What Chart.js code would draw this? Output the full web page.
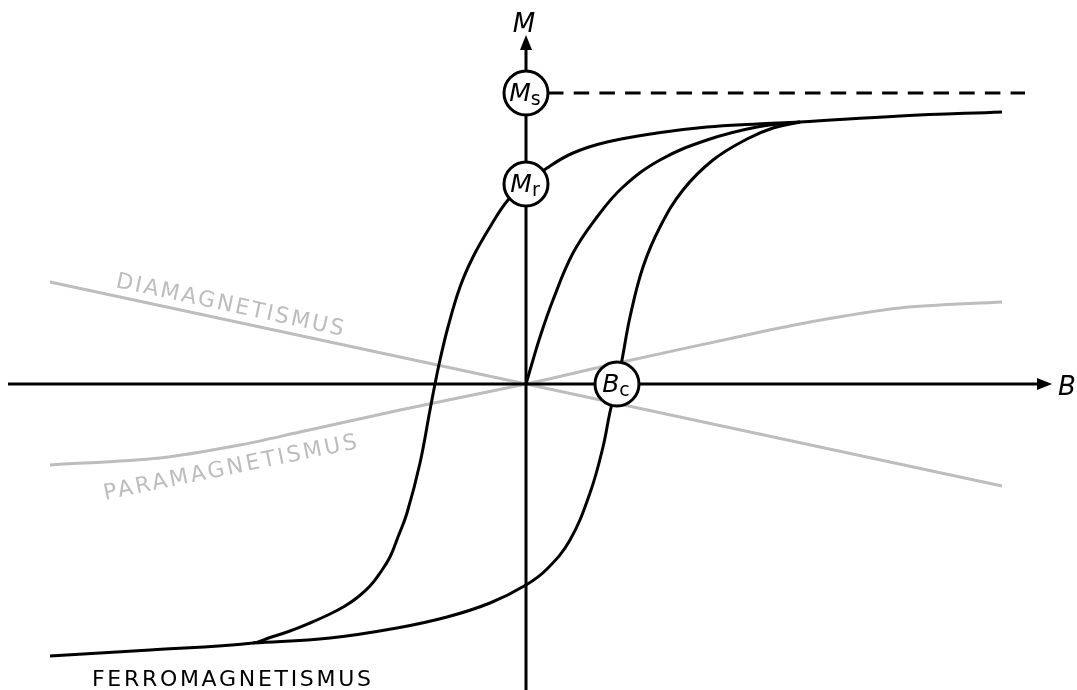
<!DOCTYPE html>
<html>
<head>
<meta charset="utf-8">
<title>Magnetisierungskurven</title>
<script src="https://cdn.jsdelivr.net/npm/chart.js@4.4.1/dist/chart.umd.min.js"></script>
<style>
  html, body { margin: 0; padding: 0; background: #fff; }
  #wrap { width: 1077px; height: 690px; position: relative; }
</style>
</head>
<body>
<div id="wrap"><canvas id="hyst"></canvas></div>
<script>
// field B and magnetisation M in arbitrary units
const B_RANGE = [-5.26, 5.51];
const M_RANGE = [-3.06, 3.84];
const B_AXIS = [-5.18, 5.14, 5.26];   // start, end of line, arrow tip
const M_AXIS = [-3.06, 3.36, 3.49];

// descending branch of the hysteresis loop
const downB = [4.76, 3.74, 2.74, 2.31, 1.81, 1.31, 0.81, 0.47, 0.21, 0, -0.18, -0.36, -0.53, -0.66, -0.78, -0.86, -0.91, -0.96, -1.06, -1.19, -1.28, -1.36, -1.46, -1.56, -1.68, -1.81, -1.96, -2.16, -2.36, -2.56, -2.73, -3.76, -4.76];
const downM = [2.72, 2.68, 2.62, 2.60, 2.57, 2.51, 2.42, 2.31, 2.16, 2.00, 1.84, 1.57, 1.27, 0.97, 0.57, 0.24, 0, -0.26, -0.79, -1.29, -1.53, -1.73, -1.89, -2.02, -2.13, -2.22, -2.30, -2.39, -2.47, -2.535, -2.59, -2.66, -2.72];

// ascending branch
const upB = [-2.73, -1.96, -1.29, -0.79, -0.36, 0, 0.21, 0.44, 0.64, 0.77, 0.84, 0.91, 0.96, 1.04, 1.17, 1.34, 1.57, 1.87, 2.21, 2.47, 2.74];
const upM = [-2.59, -2.54, -2.44, -2.33, -2.19, -2.01, -1.85, -1.56, -1.09, -0.63, -0.28, 0, 0.24, 0.67, 1.17, 1.57, 1.94, 2.24, 2.45, 2.56, 2.62];

// initial magnetisation (virgin curve)
const virginB = [0, 0.07, 0.14, 0.27, 0.47, 0.71, 0.97, 1.34, 1.81, 2.31, 2.74];
const virginM = [0, 0.24, 0.47, 0.84, 1.31, 1.67, 1.97, 2.24, 2.44, 2.57, 2.62];

// paramagnet and diamagnet
const paraB = [-4.76, -3.66, -2.86, -2.26, -1.26, 0, 1.01, 2.07, 2.84, 3.74, 4.76];
const paraM = [-0.81, -0.74, -0.61, -0.48, -0.26, 0, 0.23, 0.46, 0.62, 0.76, 0.82];
const diaB = [-4.76, 0, 4.76];
const diaM = [1.02, 0, -1.02];

// saturation, remanence, coercive field
const M_SAT = 2.91;
const M_REM = 2.00;
const B_COERC = 0.91;
const satLineB = [0.22, 4.99];

const marks = [
  { x: 0, y: M_SAT, main: "M", sub: "s" },
  { x: 0, y: M_REM, main: "M", sub: "r" },
  { x: B_COERC, y: 0, main: "B", sub: "c" }
];

const zip = (xs, ys) => xs.map((x, i) => ({ x: x, y: ys[i] }));

const FONT = '"DejaVu Sans", "Noto Sans", sans-serif';
const GREY = "#bdbdbd";
const INK = "#000";

function curve(data, color, order, tension) {
  return {
    data: data,
    showLine: true,
    borderColor: color,
    borderWidth: 3,
    pointRadius: 0,
    tension: tension,
    fill: false,
    clip: false,
    order: order
  };
}

function spacedText(ctx, text, x, y, angle, spacing) {
  ctx.save();
  ctx.translate(x, y);
  ctx.rotate(angle);
  ctx.letterSpacing = spacing + "px";
  ctx.fillText(text, 0, 0);
  ctx.restore();
}

const labelsPlugin = {
  id: "labels",
  afterDatasetsDraw(chart) {
    const { ctx, scales } = chart;
    const sx = scales.x, sy = scales.y;
    const x0 = sx.getPixelForValue(0);
    const y0 = sy.getPixelForValue(0);

    ctx.save();
    ctx.fillStyle = INK;

    // arrowheads
    const tipX = sx.getPixelForValue(B_AXIS[2]);
    ctx.beginPath();
    ctx.moveTo(tipX, y0);
    ctx.lineTo(tipX - 15, y0 - 6);
    ctx.lineTo(tipX - 15, y0 + 6);
    ctx.closePath();
    ctx.fill();

    const tipY = sy.getPixelForValue(M_AXIS[2]);
    ctx.beginPath();
    ctx.moveTo(x0, tipY);
    ctx.lineTo(x0 - 6, tipY + 15);
    ctx.lineTo(x0 + 6, tipY + 15);
    ctx.closePath();
    ctx.fill();

    // axis titles
    ctx.font = "italic 26px " + FONT;
    ctx.textBaseline = "alphabetic";
    ctx.textAlign = "center";
    ctx.fillText("M", x0 - 2, tipY - 3);
    ctx.textAlign = "left";
    ctx.fillText("B", tipX + 6, y0 + 11);

    // labels inside the circles
    marks.forEach(m => {
      const px = sx.getPixelForValue(m.x);
      const py = sy.getPixelForValue(m.y);
      ctx.font = "italic 25px " + FONT;
      const w1 = ctx.measureText(m.main).width;
      ctx.font = "19px " + FONT;
      const w2 = ctx.measureText(m.sub).width;
      const left = px - (w1 + w2) / 2 - 1;
      ctx.font = "italic 25px " + FONT;
      ctx.fillText(m.main, left, py + 8);
      ctx.font = "19px " + FONT;
      ctx.fillText(m.sub, left + w1, py + 12);
    });

    // curve names
    ctx.font = "22px " + FONT;
    spacedText(ctx, "FERROMAGNETISMUS", 92, 686, 0, 2.7);

    ctx.fillStyle = GREY;
    const diaAng = Math.atan2(sy.getPixelForValue(diaM[2]) - sy.getPixelForValue(diaM[0]),
                              sx.getPixelForValue(diaB[2]) - sx.getPixelForValue(diaB[0]));
    spacedText(ctx, "DIAMAGNETISMUS", 115, 287, diaAng, 2.3);
    spacedText(ctx, "PARAMAGNETISMUS", 105, 500, -11.6 * Math.PI / 180, 2.7);

    ctx.restore();
  }
};

new Chart(document.getElementById("hyst"), {
  type: "scatter",
  data: {
    datasets: [
      {
        data: marks.map(m => ({ x: m.x, y: m.y })),
        pointRadius: 22,
        pointHoverRadius: 22,
        pointBackgroundColor: "#fff",
        pointBorderColor: INK,
        pointBorderWidth: 3,
        showLine: false,
        clip: false,
        order: 0
      },
      curve(zip(downB, downM), INK, 1, 0.4),
      curve(zip(upB, upM), INK, 1, 0.4),
      curve(zip(virginB, virginM), INK, 1, 0.4),
      Object.assign(curve(zip(satLineB, [M_SAT, M_SAT]), INK, 2, 0), { borderDash: [15.5, 10.2] }),
      curve([{ x: B_AXIS[0], y: 0 }, { x: B_AXIS[1], y: 0 }], INK, 3, 0),
      curve([{ x: 0, y: M_AXIS[0] }, { x: 0, y: M_AXIS[1] }], INK, 3, 0),
      curve(zip(paraB, paraM), GREY, 4, 0.3),
      curve(zip(diaB, diaM), GREY, 4, 0)
    ]
  },
  options: {
    responsive: true,
    maintainAspectRatio: false,
    animation: false,
    events: [],
    layout: { padding: 0, autoPadding: false },
    plugins: {
      legend: { display: false },
      tooltip: { enabled: false }
    },
    scales: {
      x: { type: "linear", min: B_RANGE[0], max: B_RANGE[1], display: false },
      y: { type: "linear", min: M_RANGE[0], max: M_RANGE[1], display: false }
    }
  },
  plugins: [labelsPlugin]
});
</script>
</body>
</html>
